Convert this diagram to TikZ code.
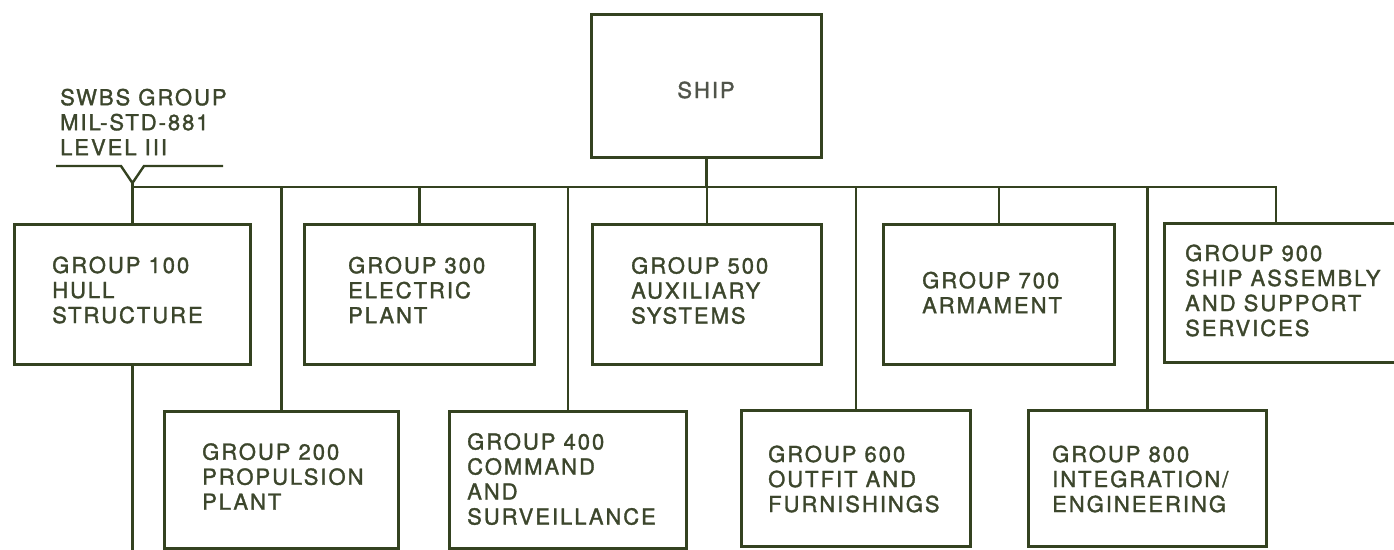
\documentclass[tikz,border=0pt]{standalone}
\usepackage{fontspec}
\newfontfamily\lblfont{TeX Gyre Heros}[LetterSpace=9,FakeBold=1.5]
\usetikzlibrary{calc}
\definecolor{linecol}{RGB}{52,66,32}
\definecolor{txtcol}{RGB}{60,70,44}
\definecolor{shiptxt}{RGB}{80,84,74}
\begin{document}
\begin{tikzpicture}[x=1pt,y=-1pt,
  box/.style={draw=linecol, line width=2.9pt, inner sep=0pt, anchor=north west, fill=none},
  conn/.style={draw=linecol, line width=2.9pt},
  brace/.style={draw=linecol, line width=2.4pt, line join=miter},
  lbl/.style={text=txtcol, font=\lblfont\fontsize{22}{25}\selectfont, align=left, anchor=west, inner sep=0pt}]
\useasboundingbox (0,0) rectangle (1394,549);
\clip (0,0) rectangle (1394,549);

% boxes
\node[box, minimum width=230pt, minimum height=143pt] (ship) at (590,13) {};
\node[text=shiptxt, font=\lblfont\fontsize{22}{25}\selectfont, inner sep=0pt] (shipt) at (706,90) {SHIP};

\node[box, minimum width=236pt, minimum height=140pt] (g100) at (13,223) {};
\node[box, minimum width=230pt, minimum height=140pt] (g300) at (303,223) {};
\node[box, minimum width=229pt, minimum height=140pt] (g500) at (591,223) {};
\node[box, minimum width=231pt, minimum height=140pt] (g700) at (882,223) {};
\node[box, minimum width=260pt, minimum height=139pt] (g900) at (1163,222) {};

\node[box, minimum width=234pt, minimum height=137pt] (g200) at (163,410) {};
\node[box, minimum width=237pt, minimum height=137pt] (g400) at (448,410) {};
\node[box, minimum width=229pt, minimum height=136pt] (g600) at (740,409) {};
\node[box, minimum width=238pt, minimum height=136pt] (g800) at (1027,409) {};

% labels
\node[lbl] (t100) at (52,290) {GROUP 100\\HULL\\STRUCTURE};
\node[lbl] (t300) at (348,290) {GROUP 300\\ELECTRIC\\PLANT};
\node[lbl] (t500) at (631,290.5) {GROUP 500\\AUXILIARY\\SYSTEMS};
\node[lbl] (t700) at (922,292.5) {GROUP 700\\ARMAMENT};
\node[lbl] (t900) at (1185,290.5) {GROUP 900\\SHIP ASSEMBLY\\AND SUPPORT\\SERVICES};
\node[lbl] (t200) at (202,476.5) {GROUP 200\\PROPULSION\\PLANT};
\node[lbl] (t400) at (467,479) {GROUP 400\\COMMAND\\AND\\SURVEILLANCE};
\node[lbl] (t600) at (768,479) {GROUP 600\\OUTFIT AND\\FURNISHINGS};
\node[lbl] (t800) at (1052,479) {GROUP 800\\INTEGRATION/\\ENGINEERING};
\node[lbl] (swbs) at (60,122) {SWBS GROUP\\MIL-STD-881\\LEVEL III};

% connector coordinates
\coordinate (vtip) at (g100.north |- 0,183);
\coordinate (busR) at (1276,187);
\coordinate (bl) at (56,166);
\coordinate (bla) at (121,166);
\coordinate (bra) at (144,166);
\coordinate (br) at (223,166);
\coordinate (tail) at (0,560);

% brace
\draw[brace] (bl) -- (bla) -- (vtip) -- (bra) -- (br);

% bus
\draw[conn] (vtip) -- (g100.north);
\draw[conn, line join=miter] (vtip |- busR) -- (busR) -- (busR |- g900.north);
\draw[conn] (ship.south) -- (ship.south |- busR);
\draw[conn] (g200.north) -- (g200.north |- busR);
\draw[conn] (g300.north) -- (g300.north |- busR);
\draw[conn] (g400.north) -- (g400.north |- busR);
\draw[conn] (g500.north) -- (g500.north |- busR);
\draw[conn] (g600.north) -- (g600.north |- busR);
\draw[conn] (g700.north) -- (g700.north |- busR);
\draw[conn] (g800.north) -- (g800.north |- busR);
\draw[conn] (g100.south) -- (g100.south |- tail);
\end{tikzpicture}
\end{document}
